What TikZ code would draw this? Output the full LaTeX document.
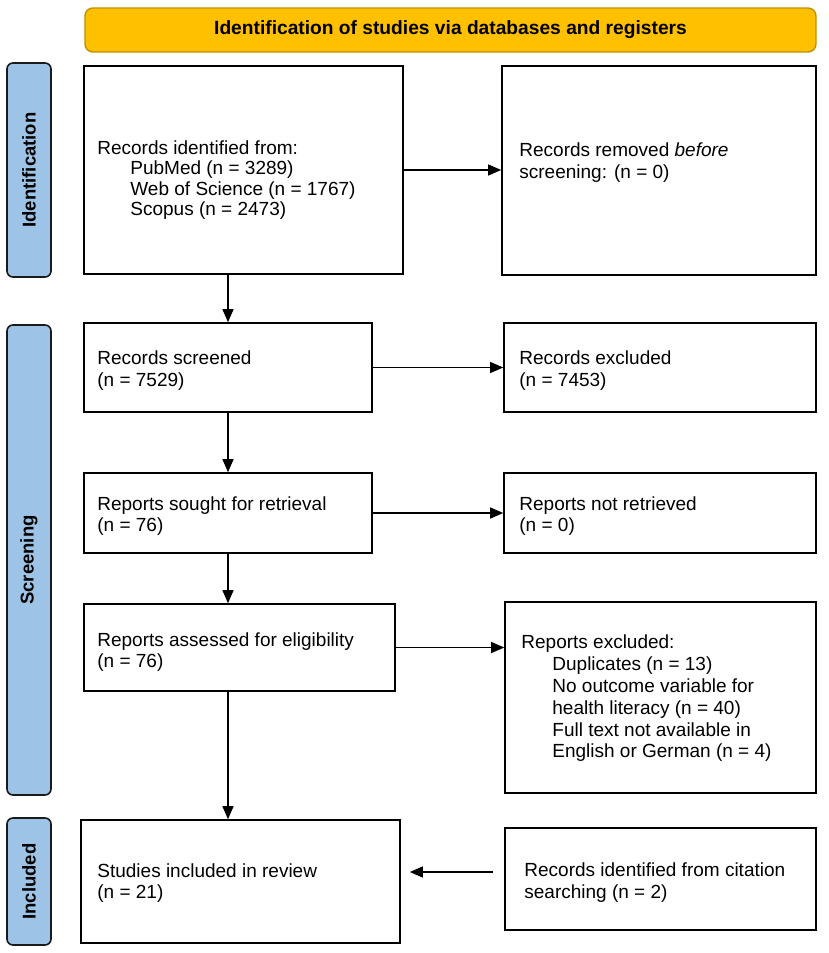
\documentclass[tikz,border=0pt]{standalone}
\usepackage{fontspec}
\setmainfont{Liberation Sans}
\usetikzlibrary{arrows.meta}
\definecolor{bannerfill}{HTML}{FFC000}
\definecolor{bannerline}{HTML}{BF9000}
\definecolor{barblue}{HTML}{9DC3E6}
\definecolor{barline}{HTML}{1A1A1A}
\tikzset{
  box/.style={draw=black, line width=1.6pt, inner sep=0pt, fill=white},
  txt/.style={align=left, inner sep=0pt, anchor=west, font=\fontsize{19}{21.5}\selectfont},
  sidebar/.style={draw=barline, line width=1.6pt, fill=barblue, rounded corners=6pt, inner sep=0pt, minimum width=44pt},
  sidelabel/.style={rotate=90, font=\bfseries\fontsize{18.5}{20}\selectfont, inner sep=0pt},
  arr/.style={line width=1.2pt, -{Triangle[length=13pt, width=11pt]}}
}
\begin{document}
\begin{tikzpicture}[x=1pt, y=-1pt]
\useasboundingbox (0,0) rectangle (829,953);

% banner
\node[draw=bannerline, line width=1.4pt, fill=bannerfill, rounded corners=8pt,
      minimum width=731pt, minimum height=44pt, inner sep=0pt,
      font=\bfseries\fontsize{19.2}{20}\selectfont] (banner) at (450.5,30)
      {Identification of studies via databases and registers};

% side bars
\node[sidebar, minimum height=214pt] (sid) at (29,170) {};
\node[sidelabel] (lid) at (sid.center) {Identification};
\node[sidebar, minimum height=470pt] (sscr) at (29,560) {};
\node[sidelabel] (lscr) at (sscr.center) {Screening};
\node[sidebar, minimum height=127pt] (sinc) at (29,881.5) {};
\node[sidelabel] (linc) at (sinc.center) {Included};

% boxes
\node[box, minimum width=319pt, minimum height=208pt] (b1) at (243.5,170) {};
\node[txt, font=\fontsize{19}{20.5}\selectfont] (t1) at ([xshift=14pt, yshift=-10pt]b1.west)
  {Records identified from:\\
   \hspace*{33pt}PubMed (n = 3289)\\
   \hspace*{33pt}Web of Science (n = 1767)\\
   \hspace*{33pt}Scopus (n = 2473)};

\node[box, minimum width=314pt, minimum height=209pt] (b2) at (659,170.5) {};
\node[txt] (t2) at ([xshift=18pt, yshift=8pt]b2.west)
  {Records removed \textit{before}\\ screening: (n = 0)};

\node[box, minimum width=288pt, minimum height=89pt] (b3) at (228,367.5) {};
\node[txt] (t3) at ([xshift=14pt, yshift=-3pt]b3.west) {Records screened\\(n = 7529)};

\node[box, minimum width=312pt, minimum height=89pt] (b4) at (660,367.5) {};
\node[txt] (t4) at ([xshift=16pt, yshift=-3pt]b4.west) {Records excluded\\(n = 7453)};

\node[box, minimum width=288pt, minimum height=80pt] (b5) at (228,513) {};
\node[txt] (t5) at ([xshift=14pt, yshift=-3pt]b5.west) {Reports sought for retrieval\\(n = 76)};

\node[box, minimum width=312pt, minimum height=80pt] (b6) at (660,513) {};
\node[txt] (t6) at ([xshift=16pt, yshift=-3pt]b6.west) {Reports not retrieved\\(n = 0)};

\node[box, minimum width=311pt, minimum height=87pt] (b7) at (239.5,647.5) {};
\node[txt] (t7) at ([xshift=14pt, yshift=-4.5pt]b7.west) {Reports assessed for eligibility\\(n = 76)};

\node[box, minimum width=311pt, minimum height=191pt] (b8) at (660.5,697.5) {};
\node[txt, font=\fontsize{19}{21.8}\selectfont] (t8) at ([xshift=17pt, yshift=-1pt]b8.west)
  {Reports excluded:\\
   \hspace*{31pt}Duplicates (n = 13)\\
   \hspace*{31pt}No outcome variable for\\
   \hspace*{31pt}health literacy (n = 40)\\
   \hspace*{31pt}Full text not available in\\
   \hspace*{31pt}English or German (n = 4)};

\node[box, minimum width=319pt, minimum height=123pt] (b9) at (240.5,881.5) {};
\node[txt] (t9) at ([xshift=17pt, yshift=-1.5pt]b9.west) {Studies included in review\\(n = 21)};

\node[box, minimum width=311pt, minimum height=102pt] (b10) at (660.5,879) {};
\node[txt] (t10) at ([xshift=20pt, yshift=-3.5pt]b10.west) {Records identified from citation\\searching (n = 2)};

% connectors
\draw[arr] (b1.east) -- (b1.east -| b2.west);
\draw[arr] (b3.east) -- (b4.west);
\draw[arr] (b5.east) -- (b6.west);
\draw[arr] (b7.east) -- (b7.east -| b8.west);

\draw[arr] (b3.north |- b1.south) -- (b3.north);
\draw[arr] (b3.south) -- (b5.north);
\draw[arr] (b5.south) -- (b5.south |- b7.north);
\draw[arr] (b5.south |- b7.south) -- (b5.south |- b9.north);

\coordinate (cy) at (0,872);
\draw[arr, shorten <=11pt, shorten >=9pt] (b10.west |- cy) -- (b9.east |- cy);
\end{tikzpicture}
\end{document}
